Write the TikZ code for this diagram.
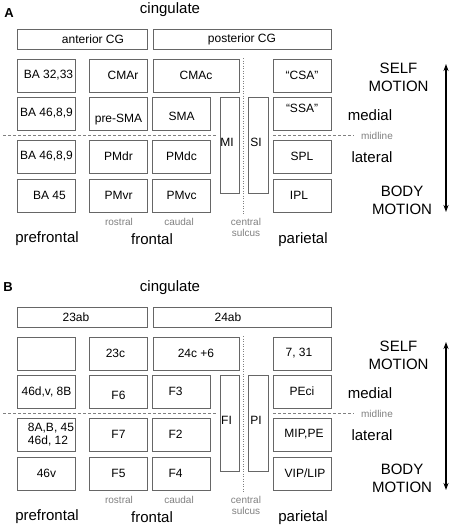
\documentclass[tikz,border=0pt]{standalone}
\usepackage{fontspec}
\setmainfont{Liberation Sans}
\usetikzlibrary{arrows.meta}
\tikzset{
    box/.style={draw=black!60, line width=0.7pt, inner sep=0pt, font=\fontsize{12}{13}\selectfont}, % every area box
    cell/.style={box, minimum width=58pt, minimum height=33pt}, % one area of the grid
    band/.style={box, minimum width=#1, minimum height=20pt}, % cingulate band on top
    tall/.style={box, minimum width=19pt, minimum height=96pt}, % strips along the central sulcus
    big/.style={font=\fontsize{15}{18}\selectfont, align=center, inner sep=0pt}, % lobe and axis names
    small/.style={font=\fontsize{10}{11}\selectfont, text=black!50, align=center, inner sep=0pt}, % small grey notes
    panel/.style={font=\bfseries\fontsize{13}{15}\selectfont, inner sep=0pt}, % panel letter
    midline/.style={draw=black!50, line width=0.6pt, dash pattern=on 3pt off 2pt}, % dashed midline
    sulcus/.style={draw=black!50, line width=0.8pt, dash pattern=on 1pt off 1.5pt}, % dotted sulcus
    motion/.style={{Stealth[length=7pt,width=5pt]}-{Stealth[length=7pt,width=5pt]}, line width=1.2pt}, % self/body axis
}
\begin{document}
\begin{tikzpicture}[x=1pt, y=-1pt]
\useasboundingbox (0,0) rectangle (454,530);

% panel A
\node[panel] (labA) at (9,13) {A};
\node[big] (cingA) at (170,10) {cingulate};
\node[band=130pt] (antCG) at (82,39) {\hspace*{22pt}anterior CG};
\node[band=178pt] (postCG) at (242,39) {posterior CG};

\node[cell] (ba3233) at (46.5,75.5) {\hspace*{4pt}BA 32,33};
\node[cell] (cmar) at (118.5,75.5) {\hspace*{9pt}CMAr};
\node[cell, minimum width=86pt] (cmac) at (196,75.5) {CMAc};
\node[cell] (csa) at (302,75.5) {“CSA”};

\node[cell] (ba4689d) at (46.5,113.5) {BA 46,8,9};
\node[cell, text height=20.6pt] (presma) at (118.5,113.5) {pre-SMA};
\node[cell, text height=14.6pt] (sma) at (181.5,113.5) {SMA};
\node[tall, text depth=6pt] (mi) at (229.5,145) {MI\hspace*{5pt}};
\node[tall, minimum width=20pt, text depth=6pt] (si) at (258,145) {SI\hspace*{4pt}};
\node[cell, text depth=10pt] (ssa) at (302,113.5) {“SSA”};

\node[cell] (ba4689v) at (46.5,156.5) {BA 46,8,9};
\node[cell] (pmdr) at (118.5,156.5) {PMdr};
\node[cell] (pmdc) at (181.5,156.5) {PMdc};
\node[cell] (spl) at (302,156.5) {SPL};

\node[cell] (ba45) at (46.5,195.5) {\hspace*{6pt}BA 45};
\node[cell] (pmvr) at (118.5,195.5) {PMvr};
\node[cell] (pmvc) at (181.5,195.5) {PMvc};
\node[cell] (ipl) at (302,195.5) {IPL\hspace*{6pt}};

\coordinate (mlA1) at (3,135.5);
\coordinate (mlA2) at (217,135.5);
\coordinate (mlA3) at (273,135.5);
\coordinate (mlA4) at (354,135.5);
\draw[midline] (mlA1) -- (mlA2) (mlA3) -- (mlA4);
\coordinate (csA1) at (243,58);
\coordinate (csA2) at (243,215);
\draw[sulcus] (csA1) -- (csA2);

\node[small] (rostA) at (119,222) {rostral};
\node[small] (caudA) at (179,222) {caudal};
\node[small] (sulcA) at (246,227.5) {central\\sulcus};
\node[small] (midA) at (377,136) {midline};
\node[big] (prefA) at (47,239) {prefrontal};
\node[big] (frontA) at (152,239) {frontal};
\node[big] (parA) at (303,240) {parietal};
\node[big] (selfA) at (398.5,77) {SELF\\MOTION};
\node[big] (bodyA) at (402,200) {BODY\\MOTION};
\node[big] (medA) at (370,115) {medial};
\node[big] (latA) at (372,157) {lateral};
\coordinate (axA1) at (446,64);
\coordinate (axA2) at (446,212);
\draw[motion] (axA1) -- (axA2);

% panel B
\begin{scope}[yshift=-278pt]
\node[panel] (labB) at (8,9) {B};
\node[big] (cingB) at (170,10) {cingulate};
\node[band=130pt] (b23ab) at (82,39) {23ab\hspace*{12pt}};
\node[band=178pt] (b24ab) at (242,39) {24ab\hspace*{28pt}};

\node[cell] (bblank) at (46.5,75.5) {};
\node[cell] (b23c) at (118.5,75.5) {23c\hspace*{6pt}};
\node[cell, minimum width=86pt] (b24c) at (196,75.5) {24c +6};
\node[cell] (b731) at (302,75.5) {7, 31\hspace*{6pt}};

\node[cell] (b46dv) at (46.5,113.5) {46d,v, 8B};
\node[cell, text height=16.6pt] (bf6) at (118.5,113.5) {F6};
\node[cell] (bf3) at (181.5,113.5) {F3\hspace*{12pt}};
\node[tall, text depth=6pt] (bfi) at (229.5,145) {FI\hspace*{6pt}};
\node[tall, minimum width=20pt, text depth=6pt] (bpi) at (258,145) {PI\hspace*{4pt}};
\node[cell] (bpeci) at (302,113.5) {PEci};

\node[cell, align=left] (b8ab) at (46.5,156.5) {\hspace*{9pt}8A,B, 45\\\hspace*{9pt}46d, 12};
\node[cell] (bf7) at (118.5,156.5) {F7};
\node[cell] (bf2) at (181.5,156.5) {F2\hspace*{12pt}};
\node[cell] (bmippe) at (302,156.5) {\hspace*{4pt}MIP,PE};

\node[cell] (b46v) at (46.5,195.5) {46v};
\node[cell] (bf5) at (118.5,195.5) {F5};
\node[cell] (bf4) at (181.5,195.5) {F4\hspace*{12pt}};
\node[cell] (bviplip) at (302,195.5) {\hspace*{6pt}VIP/LIP};

\coordinate (mlB1) at (3,135.5);
\coordinate (mlB2) at (217,135.5);
\coordinate (mlB3) at (273,135.5);
\coordinate (mlB4) at (354,135.5);
\draw[midline] (mlB1) -- (mlB2) (mlB3) -- (mlB4);
\coordinate (csB1) at (243,58);
\coordinate (csB2) at (243,215);
\draw[sulcus] (csB1) -- (csB2);

\node[small] (rostB) at (119,222) {rostral};
\node[small] (caudB) at (179,222) {caudal};
\node[small] (sulcB) at (246,227.5) {central\\sulcus};
\node[small] (midB) at (377,136) {midline};
\node[big] (prefB) at (47,239) {prefrontal};
\node[big] (frontB) at (152,239) {frontal};
\node[big] (parB) at (303,240) {parietal};
\node[big] (selfB) at (398.5,77) {SELF\\MOTION};
\node[big] (bodyB) at (402,200) {BODY\\MOTION};
\node[big] (medB) at (370,115) {medial};
\node[big] (latB) at (372,157) {lateral};
\coordinate (axB1) at (446,64);
\coordinate (axB2) at (446,212);
\draw[motion] (axB1) -- (axB2);
\end{scope}
\end{tikzpicture}
\end{document}
